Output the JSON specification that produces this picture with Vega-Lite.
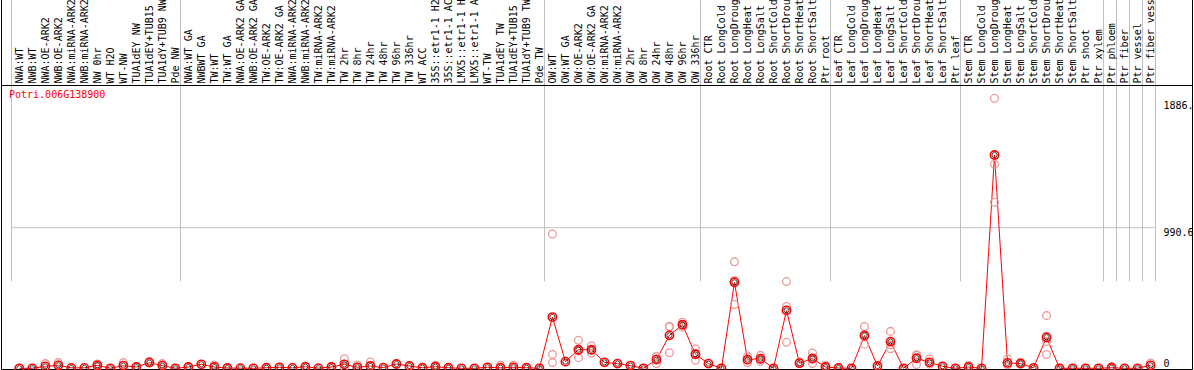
{
  "$schema": "https://vega.github.io/schema/vega-lite/v6.json",
  "autosize": "none",
  "width": 1191,
  "height": 370,
  "padding": {"left": 1, "top": -1, "right": 2, "bottom": 1},
  "background": "white",
  "title": {"text": "Potri.006G138900", "orient": "top", "anchor": "start", "frame": "group", "offset": -101, "dx": 8, "font": "DejaVu Sans Mono", "fontSize": 10, "fontWeight": "normal", "color": "#ff0000"},
  "config": {"view": {"stroke": "#000000", "strokeWidth": 1}},
  "datasets": {
    "expr": [
      {"i":1,"sample":"NWA:WT","mean":0},{"i":2,"sample":"NWB:WT","mean":0},{"i":3,"sample":"NWA:OE-ARK2","mean":14},{"i":4,"sample":"NWB:OE-ARK2","mean":21},
      {"i":5,"sample":"NWA:miRNA-ARK2","mean":3},{"i":6,"sample":"NWB:miRNA-ARK2","mean":3},{"i":7,"sample":"NW 0hr","mean":21},{"i":8,"sample":"WT H2O","mean":0},
      {"i":9,"sample":"WT-NW","mean":19},{"i":10,"sample":"TUA1dEY NW","mean":9},{"i":11,"sample":"TUA1dEY+TUB15","mean":40},{"i":12,"sample":"TUA1dY+TUB9 NW","mean":19},
      {"i":13,"sample":"Pde NW","mean":0},{"i":14,"sample":"NWA:WT GA","mean":9},{"i":15,"sample":"NWBWT GA","mean":28},{"i":16,"sample":"TW:WT","mean":9},
      {"i":17,"sample":"TW:WT GA","mean":2},{"i":18,"sample":"NWA:OE-ARK2 GA","mean":1},{"i":19,"sample":"NWB:OE-ARK2 GA","mean":0},{"i":20,"sample":"TW:OE-ARK2","mean":4},
      {"i":21,"sample":"TW:OE-ARK2 GA","mean":7},{"i":22,"sample":"NWA:miRNA-ARK2","mean":3},{"i":23,"sample":"NWB:miRNA-ARK2","mean":11},{"i":24,"sample":"TW:miRNA-ARK2","mean":1},
      {"i":25,"sample":"TW:miRNA-ARK2","mean":9},{"i":26,"sample":"TW 2hr","mean":28},{"i":27,"sample":"TW 8hr","mean":7},{"i":28,"sample":"TW 24hr","mean":16},
      {"i":29,"sample":"TW 48hr","mean":5},{"i":30,"sample":"TW 96hr","mean":30},{"i":31,"sample":"TW 336hr","mean":16},{"i":32,"sample":"WT ACC","mean":4},
      {"i":33,"sample":"35S::etr1-1 H2","mean":11},{"i":34,"sample":"35S::etr1-1 AC","mean":4},{"i":35,"sample":"LMX5::etr1-1 H","mean":0},{"i":36,"sample":"LMX5::etr1-1 A","mean":0},
      {"i":37,"sample":"WT-TW","mean":7},{"i":38,"sample":"TUA1dEY TW","mean":4},{"i":39,"sample":"TUA1dEY+TUB15","mean":7},{"i":40,"sample":"TUA1dY+TUB9 TW","mean":4},
      {"i":41,"sample":"Pde TW","mean":0},{"i":42,"sample":"OW:WT","mean":361},{"i":43,"sample":"OW:WT GA","mean":47},{"i":44,"sample":"OW:OE-ARK2","mean":131},
      {"i":45,"sample":"OW:OE-ARK2 GA","mean":131},{"i":46,"sample":"OW:miRNA-ARK2","mean":42},{"i":47,"sample":"OW:miRNA-ARK2","mean":33},{"i":48,"sample":"OW 2hr","mean":19},
      {"i":49,"sample":"OW 8hr","mean":0},{"i":50,"sample":"OW 24hr","mean":61},{"i":51,"sample":"OW 48hr","mean":232},{"i":52,"sample":"OW 96hr","mean":307},
      {"i":53,"sample":"OW 336hr","mean":99},{"i":54,"sample":"Root CTR","mean":33},{"i":55,"sample":"Root LongCold","mean":0},{"i":56,"sample":"Root LongDroug","mean":606},
      {"i":57,"sample":"Root LongHeat","mean":61},{"i":58,"sample":"Root LongSalt","mean":68},{"i":59,"sample":"Root ShortCold","mean":0},{"i":60,"sample":"Root ShortDrou","mean":408},
      {"i":61,"sample":"Root ShortHeat","mean":36},{"i":62,"sample":"Root ShortSalt","mean":69},{"i":63,"sample":"Ptr root","mean":9},{"i":64,"sample":"Leaf CTR","mean":2},
      {"i":65,"sample":"Leaf LongCold","mean":0},{"i":66,"sample":"Leaf LongDroug","mean":231},{"i":67,"sample":"Leaf LongHeat","mean":16},{"i":68,"sample":"Leaf LongSalt","mean":188},
      {"i":69,"sample":"Leaf ShortCold","mean":0},{"i":70,"sample":"Leaf ShortDrou","mean":71},{"i":71,"sample":"Leaf ShortHeat","mean":42},{"i":72,"sample":"Leaf ShortSalt","mean":14},
      {"i":73,"sample":"Ptr leaf","mean":0},{"i":74,"sample":"Stem CTR","mean":9},{"i":75,"sample":"Stem LongCold","mean":0},{"i":76,"sample":"Stem LongDroug","mean":1503},
      {"i":77,"sample":"Stem LongHeat","mean":38},{"i":78,"sample":"Stem LongSalt","mean":34},{"i":79,"sample":"Stem ShortCold","mean":3},{"i":80,"sample":"Stem ShortDrou","mean":219},
      {"i":81,"sample":"Stem ShortHeat","mean":0},{"i":82,"sample":"Stem ShortSalt","mean":0},{"i":83,"sample":"Ptr shoot","mean":0},{"i":84,"sample":"Ptr xylem","mean":0},
      {"i":85,"sample":"Ptr phloem","mean":4},{"i":86,"sample":"Ptr fiber","mean":0},{"i":87,"sample":"Ptr vessel","mean":0},{"i":88,"sample":"Ptr fiber vess","mean":21}
    ],
    "reps": [
      {"i":3,"value":33},{"i":4,"value":40},{"i":7,"value":30},{"i":7,"value":12},{"i":9,"value":40},{"i":11,"value":50},{"i":12,"value":33},{"i":16,"value":23},
      {"i":26,"value":68},{"i":26,"value":10},{"i":27,"value":23},{"i":28,"value":44},{"i":33,"value":21},{"i":38,"value":21},{"i":39,"value":21},
      {"i":42,"value":946},{"i":42,"value":98},{"i":42,"value":40},
      {"i":44,"value":197},{"i":44,"value":75},{"i":44,"value":121},
      {"i":45,"value":157},{"i":45,"value":108},{"i":45,"value":128},
      {"i":50,"value":84},{"i":50,"value":33},{"i":50,"value":66},
      {"i":51,"value":294},{"i":51,"value":292},{"i":51,"value":110},
      {"i":52,"value":325},{"i":52,"value":290},{"i":52,"value":306},
      {"i":53,"value":138},{"i":53,"value":56},{"i":53,"value":103},
      {"i":56,"value":750},{"i":56,"value":618},{"i":56,"value":450},
      {"i":57,"value":84},{"i":57,"value":40},{"i":57,"value":59},
      {"i":58,"value":91},{"i":58,"value":50},{"i":58,"value":63},
      {"i":60,"value":611},{"i":60,"value":436},{"i":60,"value":183},
      {"i":61,"value":45},
      {"i":62,"value":108},{"i":62,"value":33},{"i":62,"value":66},
      {"i":63,"value":20},
      {"i":66,"value":295},{"i":66,"value":170},{"i":66,"value":228},
      {"i":68,"value":260},{"i":68,"value":138},{"i":68,"value":166},
      {"i":70,"value":96},{"i":70,"value":26},{"i":70,"value":91},
      {"i":71,"value":66},{"i":71,"value":30},
      {"i":74,"value":20},
      {"i":76,"value":1902},{"i":76,"value":1437},{"i":76,"value":1170},
      {"i":77,"value":66},{"i":77,"value":25},
      {"i":78,"value":40},{"i":78,"value":30},
      {"i":80,"value":371},{"i":80,"value":97},{"i":80,"value":189},
      {"i":85,"value":12},{"i":88,"value":37}
    ]
  },
  "layer": [
    {
      "data": {"values": [{}]},
      "mark": {"type": "rule", "color": "#c0c0c0", "strokeWidth": 1},
      "encoding": {
        "x": {"datum": 0.339, "type": "quantitative",
              "scale": {"domain": [-0.407, 91.187], "nice": false, "zero": false},
              "axis": {"orient": "bottom", "title": null, "values": [0.339, 13.339, 41.339, 53.339, 63.339, 73.339, 84.339, 85.339, 86.339, 87.339, 88.339],
                       "grid": true, "gridColor": "#c0c0c0", "gridWidth": 1, "labels": false, "ticks": false, "domain": false}},
        "x2": {"datum": 88.339},
        "y": {"datum": 990.6, "type": "quantitative",
              "scale": {"domain": [0, 1981.2], "range": [369.3, 88.1], "nice": false, "zero": true},
              "axis": null}
      }
    },
    {
      "data": {"name": "expr"},
      "mark": {"type": "line", "color": "#ff0000", "strokeWidth": 1},
      "encoding": {
        "x": {"field": "i", "type": "quantitative",
              "scale": {"domain": [-0.407, 91.187], "nice": false, "zero": false},
              "axis": {"orient": "top", "offset": -86, "title": null, "values": [1,2,3,4,5,6,7,8,9,10,11,12,13,14,15,16,17,18,19,20,21,22,23,24,25,26,27,28,29,30,31,32,33,34,35,36,37,38,39,40,41,42,43,44,45,46,47,48,49,50,51,52,53,54,55,56,57,58,59,60,61,62,63,64,65,66,67,68,69,70,71,72,73,74,75,76,77,78,79,80,81,82,83,84,85,86,87,88],
                       "labelExpr": "data('expr')[datum.value - 1].sample",
                       "labelAngle": 270, "labelAlign": "left", "labelBaseline": "middle", "labelPadding": 2,
                       "labelFont": "DejaVu Sans Mono", "labelFontSize": 10, "labelColor": "#000000",
                       "labelOverlap": false, "labelFlush": false, "labelBound": false, "labelLimit": 0,
                       "ticks": false, "grid": false, "domain": true, "domainColor": "#000000", "domainWidth": 1}},
        "y": {"field": "mean", "type": "quantitative",
              "scale": {"domain": [0, 1981.2], "range": [369.3, 88.1], "nice": false, "zero": true},
              "axis": {"orient": "right", "offset": -37, "title": null, "values": [0, 990.6, 1886.4], "format": ".1~f",
                       "grid": false, "ticks": false, "domain": false,
                       "labelFont": "DejaVu Sans Mono", "labelFontSize": 10, "labelColor": "#000000",
                       "labelAlign": "left", "labelPadding": 8, "labelFlush": false, "labelOverlap": false,
                       "labelBaseline": {"condition": {"test": "datum.value == 0", "value": "bottom"}, "value": "top"}}}
      }
    },
    {
      "data": {"name": "reps"},
      "mark": {"type": "point", "shape": "circle", "filled": false, "stroke": "#ee9999", "strokeWidth": 1.3, "size": 60, "opacity": 1},
      "encoding": {
        "x": {"field": "i", "type": "quantitative", "scale": {"domain": [-0.407, 91.187], "nice": false, "zero": false}, "axis": null},
        "y": {"field": "value", "type": "quantitative", "scale": {"domain": [0, 1981.2], "range": [369.3, 88.1], "nice": false, "zero": true}, "axis": null}
      }
    },
    {
      "data": {"name": "expr"},
      "mark": {"type": "point", "shape": "circle", "filled": false, "stroke": "#ff0000", "strokeWidth": 1.6, "size": 68, "opacity": 1},
      "encoding": {
        "x": {"field": "i", "type": "quantitative", "scale": {"domain": [-0.407, 91.187], "nice": false, "zero": false}, "axis": null},
        "y": {"field": "mean", "type": "quantitative", "scale": {"domain": [0, 1981.2], "range": [369.3, 88.1], "nice": false, "zero": true}, "axis": null}
      }
    },
    {
      "data": {"name": "expr"},
      "mark": {"type": "point", "shape": "circle", "filled": false, "stroke": "#000000", "strokeWidth": 0.7, "size": 26, "opacity": 1},
      "encoding": {
        "x": {"field": "i", "type": "quantitative", "scale": {"domain": [-0.407, 91.187], "nice": false, "zero": false}, "axis": null},
        "y": {"field": "mean", "type": "quantitative", "scale": {"domain": [0, 1981.2], "range": [369.3, 88.1], "nice": false, "zero": true}, "axis": null}
      }
    }
  ],
  "resolve": {"axis": {"x": "independent", "y": "independent"}}
}
